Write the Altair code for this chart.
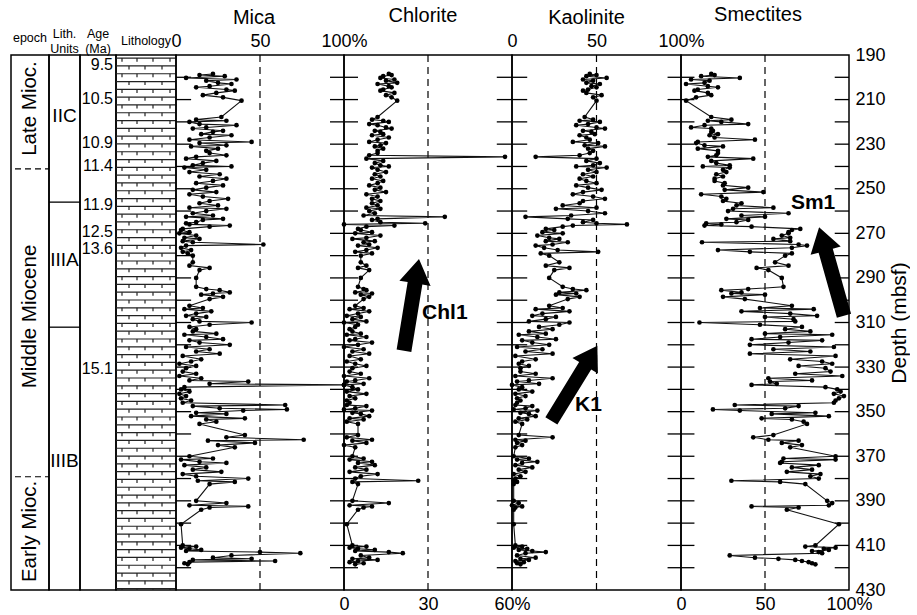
import altair as alt
import pandas as pd

FONT = "Liberation Sans"

# ---------------- data ----------------
depth = [
    198.5, 199.0, 199.5, 200.3, 201.0, 201.5, 202.5, 203.0, 204.0, 204.5, 205.5, 206.0, 207.0, 208.0, 209.0, 210.5,
    217.8, 219.0, 219.5, 220.0, 221.0, 221.5, 222.5, 223.0, 224.0, 224.5, 225.5, 226.0, 227.0, 228.0, 229.0, 229.5, 230.5, 231.0, 232.0, 233.0,
    234.0, 235.0, 235.7, 236.5, 237.5, 238.5, 239.5, 240.0, 240.5, 241.5, 242.5, 243.5, 244.5, 245.5, 246.5, 247.5, 248.5, 249.5, 250.5, 251.5, 252.5, 253.5, 254.5, 255.5,
    256.5, 257.5, 258.5, 259.0, 260.0, 261.0, 262.0, 262.6, 263.5, 264.0, 265.0, 265.5, 266.0, 266.5, 267.0, 268.0,
    268.5, 269.5, 270.0, 271.0, 272.0, 272.5, 273.5, 274.0, 275.0, 275.5, 276.5, 277.5, 278.3, 279.0, 280.0,
    283.0, 284.5, 285.5, 286.5, 290.0, 294.0, 295.0, 295.5, 296.5, 297.0, 297.5, 298.5, 299.5,
    302.5, 303.5, 304.0, 305.0, 306.0, 307.0, 307.5, 308.5, 309.5, 310.0, 311.0, 312.0, 313.0,
    314.0, 315.0, 315.5, 316.5, 317.5, 318.0, 319.0, 320.0, 321.0, 322.0, 323.0, 324.0, 325.0, 326.5, 327.5, 328.5, 329.5, 330.5,
    332.0, 333.0, 334.0, 335.0, 336.0, 336.5, 337.5, 338.0, 339.0, 340.0, 341.0, 342.0, 343.0, 344.0, 345.0,
    346.0, 347.0, 347.5, 348.5, 349.0, 349.5, 350.5, 351.0, 352.0, 353.0, 353.5, 354.5, 355.5,
    360.5, 361.5, 362.6, 363.0, 364.0, 365.0, 366.0,
    370.0, 371.0, 371.5, 372.5, 373.0, 374.0, 375.0, 376.0, 377.0, 378.0, 379.0, 380.0, 381.0, 381.5, 382.5,
    390.0, 391.0, 392.0, 392.5, 393.0, 394.0,
    400.5,
    410.0, 410.5, 411.0, 411.5, 412.0, 412.5, 413.0, 413.5, 414.5, 415.5, 416.0, 416.5, 417.0, 417.5, 418.0, 418.5,
]

mica = [
    22, 14, 29, 6, 36, 18, 25, 33, 20, 12, 30, 35, 24, 16, 28, 39,
    27, 12, 30, 8, 14, 36, 18, 10, 28, 22, 15, 33, 20, 8, 45, 14, 30, 9, 25, 18,
    20, 30, 12, 6, 24, 16, 10, 33, 5, 18, 8, 26, 14, 30, 22, 12, 28, 18, 10, 24, 8, 16, 31, 20,
    14, 25, 8, 30, 18, 10, 22, 6, 28, 16, 12, 6, 8, 32, 20, 4,
    3, 8, 2, 12, 5, 14, 4, 10, 52, 6, 3, 9, 4, 7, 10,
    10, 8, 20, 14, 12, 12, 18, 26, 32, 22, 15, 28, 20,
    8, 16, 5, 21, 12, 6, 18, 10, 14, 45, 20, 8, 12,
    10, 24, 5, 18, 28, 8, 14, 32, 6, 20, 12, 26, 4, 15, 9, 2, 12, 6,
    4, 12, 2, 15, 8, 43, 20, 100, 5, 3, 8, 2, 6, 3, 9,
    4, 65, 10, 26, 66, 40, 12, 30, 9, 41, 18, 24, 14,
    41, 30, 76, 19, 47, 25, 35,
    8, 22, 3, 14, 30, 5, 18, 10, 27, 4, 12, 43, 13, 35, 20,
    12, 30, 8, 43, 20, 15,
    3,
    4, 12, 3, 8, 15, 6, 50, 74, 33, 22, 45, 10, 59, 8, 5, 7,
]

chlorite = [
    16, 17, 14, 13, 18, 15, 19, 12, 16, 17, 14, 13, 18, 15, 17, 19,
    12, 10, 14, 16, 9, 12, 15, 17, 11, 13, 14, 10, 16, 12, 9, 15, 13, 11, 14, 12,
    12, 9, 57.5, 8, 14, 11, 13, 16, 10, 12, 15, 11, 13, 10, 14, 12, 9, 13, 11, 15, 8, 12, 10, 13,
    10, 12, 8, 13, 9, 11, 7, 36, 12, 10, 13, 29, 0, 18, 8, 5,
    6, 10, 4, 13, 8, 3, 11, 7, 9, 5, 12, 8, 4, 10, 6,
    6, 8, 5, 9, 6, 5, 7, 8, 4, 10, 6, 9, 7,
    4, 7, 2, 9, 5, 1, 6, 3, 8, 0, 5, 4, 2,
    3, 6, 1, 8, 4, 2, 10, 5, 0, 7, 3, 9, 2, 6, 1, 4, 8, 3,
    2, 6, 0, 9, 4, 1, 7, 0, 3, 5, 1, 8, 2, 4, 1,
    2, 1, 8, 4, 0, 10, 3, 6, 9, 2, 7, 1, 5,
    5, 1, 10, 3, 8, 0, 4,
    3, 7, 2, 10, 5, 11, 4, 8, 2, 12, 6, 4, 26.5, 3, 5,
    3, 16, 2, 10, 7, 5,
    1,
    3, 8, 2, 5, 11, 4, 16, 21, 6, 9, 3, 12, 5, 2, 7, 4,
]

kaolinite = [
    46, 50, 44, 56, 42, 48, 44, 52, 47, 50, 45, 42, 44, 53, 48, 50,
    43, 48, 40, 52, 45, 38, 50, 55, 42, 47, 49, 40, 44, 46, 36, 51, 43, 55, 45, 48,
    46, 40, 14, 50, 44, 52, 48, 38, 56, 45, 50, 42, 48, 40, 44, 50, 38, 45, 53, 42, 36, 48, 55, 42,
    40, 30, 50, 26, 45, 55, 35, 8, 33, 48, 42, 50, 68, 36, 30, 20,
    25, 18, 30, 15, 22, 28, 20, 33, 24, 14, 19, 27, 51, 17, 22,
    28, 20, 34, 25, 22, 30, 36, 44, 28, 38, 26, 40, 33,
    22, 30, 14, 34, 18, 12, 26, 20, 10, 34, 28, 16, 24,
    10, 20, 4, 15, 26, 6, 12, 22, 3, 18, 8, 24, 2, 14, 6, 4, 10, 5,
    5, 14, 2, 24, 10, 3, 16, 0, 6, 4, 12, 2, 8, 3, 5,
    3, 2, 12, 8, 1, 15, 5, 10, 14, 4, 9, 2, 6,
    4, 24, 2, 8, 3, 6, 2,
    1, 10, 3, 15, 6, 2, 12, 4, 8, 1, 5, 2, 1, 3, 1,
    1, 4, 0, 6, 2, 1,
    1,
    2, 6, 1, 9, 4, 12, 20, 8, 3, 14, 5, 10, 2, 7, 3, 5,
]

smectites = [
    18, 20, 12, 35, 6, 17, 14, 3, 16, 22, 10, 8, 16, 18, 9, 3,
    18, 30, 16, 24, 40, 14, 6, 18, 19, 18, 22, 17, 20, 44, 10, 9, 14, 25, 10, 22,
    22, 21, 16, 43, 18, 21, 29, 13, 29, 25, 27, 21, 25, 20, 20, 26, 25, 40, 26, 49, 12, 24, 27, 25,
    36, 33, 55, 31, 28, 64, 36, 50, 27, 40, 33, 15, 24, 14, 42, 71,
    66, 64, 64, 60, 65, 55, 65, 12.5, 70, 75, 66, 22, 41, 66, 62,
    56, 64, 45, 52, 60, 61, 40, 24, 36, 30, 50, 25, 38,
    66, 47, 79, 36, 65, 81, 50, 67, 68, 11, 47, 72, 62,
    77, 50, 90, 59, 42, 84, 64, 41, 91, 55, 77, 41, 92, 65, 84, 90, 70, 86,
    89, 68, 96, 52, 78, 53, 57, 42, 86, 93, 95, 91, 97, 94, 92,
    91, 32, 70, 62, 19, 35, 80, 54, 88, 48, 66, 73, 75,
    55, 43, 52, 70, 60, 72, 65,
    92, 61, 92, 60, 59, 82, 66, 78, 63, 83, 77, 82, 30, 59, 74,
    87, 90, 88, 42, 70, 63,
    94,
    80, 74, 92, 85, 88, 78, 82, 84, 29, 44, 58, 68, 72, 76, 78, 80,
]

age_labels = ["9.5", "10.5", "10.9", "11.4", "11.9", "12.5", "13.6", "15.1"]
age_depth = [194.3, 209.7, 229.6, 239.6, 257.5, 269.5, 277.0, 330.8]

epoch_labels = ["Late Mioc.", "Middle Miocene", "Early Mioc."]
epoch_depth = [214.0, 307.3, 403.7]
epoch_bounds = [241.1, 379.2]

unit_labels = ["IIC", "IIIA", "IIIB"]
unit_depth = [217.2, 282.0, 372.2]
unit_bounds = [256.0, 312.1]

depth_ticks = list(range(200, 421, 10))
depth_labels = list(range(190, 431, 20))

# arrows: panel value, depth, angle, length
arrow_value = {"Chl1": 24.1, "K1": 36.9, "Sm1": 89.6}
arrow_depth = {"Chl1": 302.1, "K1": 337.3, "Sm1": 287.1}
arrow_angle = {"Chl1": 9.3, "K1": 31.5, "Sm1": 344.3}
arrow_len = {"Chl1": 93, "K1": 88, "Sm1": 92}
label_value = {"Chl1": 36.0, "K1": 45.2, "Sm1": 78.6}
label_depth = {"Chl1": 305.7, "K1": 347.0, "Sm1": 256.6}

ARROW = "M0,-1L0.34,-0.47L0.16,-0.47L0.16,1L-0.16,1L-0.16,-0.47L-0.34,-0.47Z"

H = 535
YSC = alt.Scale(domain=[190, 430], reverse=True, nice=False, zero=False)


def Y(field="depth", axis=None):
    return alt.Y(f"{field}:Q", scale=YSC, axis=axis, title=None)


def title(text, size, offset, dx=0, line_height=None):
    kw = dict(text=text, fontSize=size, font=FONT, fontWeight="normal",
              anchor="middle", frame="group", offset=offset, dx=dx, color="black")
    if line_height:
        kw["lineHeight"] = line_height
    return alt.TitleParams(**kw)


# ---------------- left columns ----------------
epoch_panel = alt.layer(
    alt.Chart(pd.DataFrame({"depth": epoch_bounds})).mark_rule(
        color="black", strokeDash=[6, 4], strokeWidth=1.2
    ).encode(x=alt.value(4), x2=alt.value(38), y=Y()),
    alt.Chart(pd.DataFrame({"depth": epoch_depth, "label": epoch_labels})).mark_text(
        angle=270, fontSize=20.5, font=FONT, baseline="middle", align="center", color="black"
    ).encode(x=alt.value(19), y=Y(), text="label:N"),
).properties(width=38, height=H, title=title("epoch", 12.5, 11))

unit_panel = alt.layer(
    alt.Chart(pd.DataFrame({"depth": unit_bounds})).mark_rule(
        color="black", strokeWidth=1.3
    ).encode(x=alt.value(0), x2=alt.value(31), y=Y()),
    alt.Chart(pd.DataFrame({"depth": unit_depth, "label": unit_labels})).mark_text(
        fontSize=19, font=FONT, baseline="middle", align="center", color="black"
    ).encode(x=alt.value(15.5), y=Y(), text="label:N"),
).properties(width=31, height=H, title=title(["Lith.", "Units"], 12.5, 0, line_height=15))

age_panel = alt.Chart(pd.DataFrame({"depth": age_depth, "label": age_labels})).mark_text(
    fontSize=16, font=FONT, baseline="middle", align="right", color="black"
).encode(x=alt.value(33), y=Y(), text="label:N").properties(
    width=36, height=H, title=title(["Age", "(Ma)"], 12.5, 0, line_height=15))

# lithology pattern (chalk / limestone symbol)
rows = [191.4 + 3.5 * k for k in range(69) if 191.4 + 3.5 * k < 430]
tick_rows = []
for k, r in enumerate(rows):
    for px in ([6, 21, 37, 54] if k % 2 == 0 else [13, 29, 46]):
        tick_rows.append({"px": px, "depth": r, "depth2": min(r + 1.6, 430)})
LX = alt.X("px:Q", scale=alt.Scale(domain=[0, 60], nice=False, zero=False), axis=None)
lith_panel = alt.layer(
    alt.Chart(pd.DataFrame({"depth": rows})).mark_rule(color="#222", strokeWidth=1.2).encode(
        x=alt.value(0), x2=alt.value(60), y=Y()),
    alt.Chart(pd.DataFrame(tick_rows)).mark_rule(color="#222", strokeWidth=1.2).encode(
        x=LX, y=Y(), y2="depth2:Q"),
).properties(width=60, height=H, title=title("Lithology", 12.5, 8))


# ---------------- mineral panels ----------------
def mineral_panel(name, values, xmax, width, orient, label_vals, dash_at, tlo, thi,
                  title_offset, title_dx, right_axis=False, arrow=None):
    n = min(len(depth), len(values))
    df = pd.DataFrame({"idx": list(range(n)), "depth": depth[:n], "v": values[:n]})
    xs = alt.Scale(domain=[0, xmax], nice=False, zero=False)
    ax = alt.Axis(orient=orient, values=label_vals, ticks=False, domain=False, grid=False,
                  labelExpr=f"datum.value == {xmax} ? datum.label + '%' : datum.label",
                  labelFontSize=18, labelFont=FONT, labelColor="black", labelPadding=5,
                  labelFlush=False, title=None)
    X = alt.X("v:Q", scale=xs, axis=ax, title=None)

    yax = None
    if right_axis:
        yax = alt.Axis(orient="right", values=depth_labels, ticks=False, domain=False, grid=False,
                       labelFontSize=18, labelFont=FONT, labelColor="black", labelPadding=6,
                       title="Depth (mbsf)", titleFontSize=21, titleFont=FONT,
                       titleFontWeight="normal", titleColor="black", titleAngle=270,
                       titleBaseline="top", titlePadding=3)

    def YY():
        return Y(axis=yax)

    ticks = pd.DataFrame({"depth": depth_ticks, "v": [tlo] * len(depth_ticks),
                          "v2": [thi] * len(depth_ticks)})
    layers = [
        alt.Chart(ticks).mark_rule(color="black", strokeWidth=1.3).encode(
            x=X, x2="v2:Q", y=YY()),
        alt.Chart(pd.DataFrame({"v": [dash_at]})).mark_rule(
            color="black", strokeDash=[7, 5], strokeWidth=1.2).encode(x=X),
    ]
    if right_axis:
        rt = pd.DataFrame({"depth": depth_ticks, "v": [xmax * 0.915] * len(depth_ticks),
                           "v2": [xmax] * len(depth_ticks)})
        layers.append(alt.Chart(rt).mark_rule(color="black", strokeWidth=1.3).encode(
            x=X, x2="v2:Q", y=YY()))
    layers += [
        alt.Chart(df).mark_line(color="#111", strokeWidth=1.1).encode(
            x=X, y=YY(), order=alt.Order("idx:Q")),
        alt.Chart(df).mark_point(filled=True, size=22, color="black", opacity=1).encode(
            x=X, y=YY()),
    ]
    if arrow:
        adf = pd.DataFrame({"v": [arrow_value[arrow]], "depth": [arrow_depth[arrow]],
                            "ang": [arrow_angle[arrow]], "sz": [arrow_len[arrow] ** 2]})
        ldf = pd.DataFrame({"v": [label_value[arrow]], "depth": [label_depth[arrow]],
                            "label": [arrow]})
        layers += [
            alt.Chart(adf).mark_point(shape=ARROW, filled=True, color="black", opacity=1,
                                      strokeWidth=0).encode(
                x=X, y=YY(), angle=alt.Angle("ang:Q", scale=None),
                size=alt.Size("sz:Q", scale=None)),
            alt.Chart(ldf).mark_text(fontSize=21, font=FONT, fontWeight="bold",
                                     baseline="middle", align="center", color="black").encode(
                x=X, y=YY(), text="label:N"),
        ]
    return alt.layer(*layers).properties(
        width=width, height=H, title=title(name, 20, title_offset, title_dx))


mica_panel = mineral_panel("Mica", mica, 100, 168, "top", [0, 50, 100], 50, 0, 9, 4, -6)
chl_panel = mineral_panel("Chlorite", chlorite, 60, 168, "bottom", [0, 30, 60], 30, -5, 5, 28, -5,
                          arrow="Chl1")
kao_panel = mineral_panel("Kaolinite", kaolinite, 100, 169, "top", [0, 50, 100], 50, -9, 9, 4, -10,
                          arrow="K1")
sm_panel = mineral_panel("Smectites", smectites, 100, 168, "bottom", [0, 50, 100], 50, -8, 8, 21, -7,
                         right_axis=True, arrow="Sm1")

chart = alt.hconcat(
    epoch_panel, unit_panel, age_panel, lith_panel, mica_panel, chl_panel, kao_panel, sm_panel,
    spacing=0, bounds="flush",
).resolve_scale(x="independent", y="independent").properties(
    padding={"left": 10, "top": 4, "right": 0, "bottom": 0},
    background="white",
).configure(font=FONT).configure_view(stroke="black", strokeWidth=1.5)

chart.save("out.html", embed_options={"renderer": "svg", "actions": False})
